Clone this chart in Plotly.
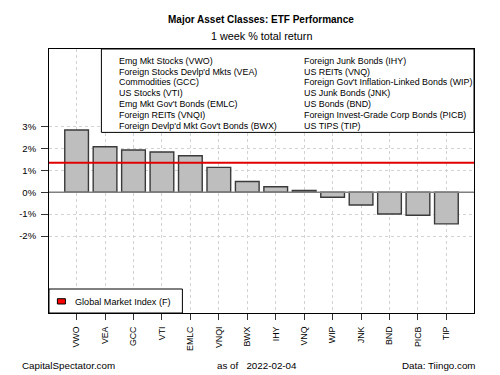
import plotly.graph_objects as go

tickers = ["VWO", "VEA", "GCC", "VTI", "EMLC", "VNQI", "BWX", "IHY", "VNQ", "WIP", "JNK", "BND", "PICB", "TIP"]
returns = [2.83, 2.07, 1.92, 1.83, 1.66, 1.13, 0.49, 0.25, 0.08, -0.23, -0.58, -0.99, -1.05, -1.44]
gmi_return = 1.34
legend_col1 = ["Emg Mkt Stocks (VWO)", "Foreign Stocks Devlp'd Mkts (VEA)", "Commodities (GCC)",
               "US Stocks (VTI)", "Emg Mkt Gov't Bonds (EMLC)", "Foreign REITs (VNQI)",
               "Foreign Devlp'd Mkt Gov't Bonds (BWX)"]
legend_col2 = ["Foreign Junk Bonds (IHY)", "US REITs (VNQ)", "Foreign Gov't Inflation-Linked Bonds (WIP)",
               "US Junk Bonds (JNK)", "US Bonds (BND)", "Foreign Invest-Grade Corp Bonds (PICB)",
               "US TIPS (TIP)"]
ytick_vals = [-2, -1, 0, 1, 2, 3]
ytick_text = ["-2%", "-1%", "0%", "1%", "2%", "3%"]

W, H = 500, 375
L, R, T, B = 49.3, 474.3, 49.3, 313.3
FONT = "Liberation Sans, Arial, sans-serif"

def px(x):
    return (x - L) / (R - L)

def py(y):
    return (B - y) / (B - T)

xs = list(range(len(tickers)))

fig = go.Figure()
fig.add_trace(go.Bar(
    x=xs, y=returns, width=0.833,
    marker=dict(color="#bebebe", line=dict(color="#3a3a3a", width=1.4)),
    showlegend=False, hoverinfo="skip"
))

shapes = []
shapes.append(dict(type="line", xref="paper", yref="y", x0=0, x1=1, y0=0, y1=0,
                   line=dict(color="#808080", width=1.5), layer="above"))
shapes.append(dict(type="line", xref="paper", yref="y", x0=0, x1=1, y0=gmi_return, y1=gmi_return,
                   line=dict(color="#e00000", width=2), layer="above"))
shapes.append(dict(type="rect", xref="paper", yref="paper",
                   x0=px(101.7), x1=1, y0=py(132.7), y1=1,
                   fillcolor="white", line=dict(color="black", width=1), layer="above"))
shapes.append(dict(type="rect", xref="paper", yref="paper",
                   x0=0, x1=px(182.7), y0=0, y1=py(289.3),
                   fillcolor="white", line=dict(color="black", width=1), layer="above"))
shapes.append(dict(type="rect", xref="paper", yref="paper",
                   x0=px(57.7), x1=px(65.7), y0=py(304.3), y1=py(299),
                   fillcolor="#ff0000", line=dict(color="black", width=1), layer="above"))

annotations = []
line_ys = [61, 71.8, 82.6, 93.4, 104.2, 115, 125.8]
for i, t in enumerate(legend_col1):
    annotations.append(dict(text=t, xref="paper", yref="paper", x=px(117.2), y=py(line_ys[i]),
                            xanchor="left", yanchor="middle", showarrow=False,
                            font=dict(family=FONT, size=8.9, color="black")))
for i, t in enumerate(legend_col2):
    annotations.append(dict(text=t, xref="paper", yref="paper", x=px(301.8), y=py(line_ys[i]),
                            xanchor="left", yanchor="middle", showarrow=False,
                            font=dict(family=FONT, size=8.9, color="black")))
annotations.append(dict(text="Global Market Index (F)", xref="paper", yref="paper",
                        x=px(73.5), y=py(302.5), xanchor="left", yanchor="middle", showarrow=False,
                        font=dict(family=FONT, size=9.1, color="black")))
annotations.append(dict(text="<b>Major Asset Classes: ETF Performance</b>", xref="paper", yref="paper",
                        x=px(261.5), y=py(20), xanchor="center", yanchor="middle", showarrow=False,
                        font=dict(family=FONT, size=10, color="black")))
annotations.append(dict(text="1 week % total return", xref="paper", yref="paper",
                        x=px(261.5), y=py(36.5), xanchor="center", yanchor="middle", showarrow=False,
                        font=dict(family=FONT, size=10.8, color="black")))
annotations.append(dict(text="CapitalSpectator.com", xref="paper", yref="paper",
                        x=px(20), y=py(366), xanchor="left", yanchor="middle", showarrow=False,
                        font=dict(family=FONT, size=9.8, color="black")))
annotations.append(dict(text="as of   2022-02-04", xref="paper", yref="paper",
                        x=px(215), y=py(366), xanchor="left", yanchor="middle", showarrow=False,
                        font=dict(family=FONT, size=9.8, color="black")))
annotations.append(dict(text="Data: Tiingo.com", xref="paper", yref="paper",
                        x=px(478), y=py(366), xanchor="right", yanchor="middle", showarrow=False,
                        font=dict(family=FONT, size=9.8, color="black")))

fig.update_layout(
    width=W, height=H,
    margin=dict(l=L, r=W - R, t=T, b=H - B, pad=0),
    paper_bgcolor="white", plot_bgcolor="white",
    font=dict(family=FONT, size=8.5, color="black"),
    shapes=shapes, annotations=annotations,
    showlegend=False,
    xaxis=dict(range=[-0.97, 13.97], tickmode="array", tickvals=xs, ticktext=tickers,
               tickangle=-90, ticks="outside", ticklen=6, tickcolor="#333333",
               ticklabelstandoff=3,
               showgrid=True, gridcolor="#d3d3d3", griddash="dot", gridwidth=1,
               showline=True, linecolor="black", linewidth=1, mirror=True,
               zeroline=False, tickfont=dict(family=FONT, size=8.8, color="black")),
    yaxis=dict(range=[-5.5, 6.52], tickmode="array", tickvals=ytick_vals, ticktext=ytick_text,
               ticks="outside", ticklen=7, tickcolor="#333333",
               ticklabelstandoff=3,
               showgrid=True, gridcolor="#d3d3d3", griddash="dot", gridwidth=1,
               showline=True, linecolor="black", linewidth=1, mirror=True,
               zeroline=False, tickfont=dict(family=FONT, size=9.5, color="black")),
)

fig.write_html("out.html", config={"displayModeBar": False},
               post_script="document.body.style.margin='0';document.body.style.overflow='hidden';")
